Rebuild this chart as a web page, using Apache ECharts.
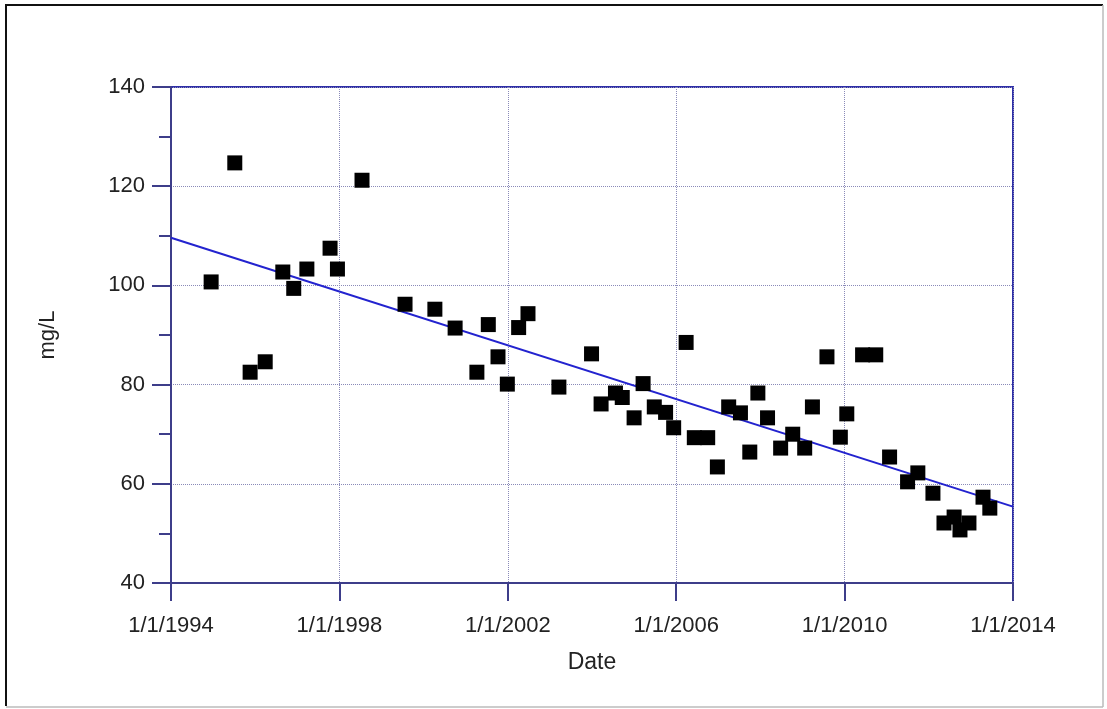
<!DOCTYPE html>
<html>
<head>
<meta charset="utf-8">
<title>mg/L over time</title>
<script src="https://cdn.jsdelivr.net/npm/echarts@6/dist/echarts.min.js"></script>
<style>
  html, body { margin: 0; padding: 0; background: #fff; }
  #chart { width: 1107px; height: 709px; }
</style>
</head>
<body>
<div id="chart"></div>
<script>
// Sample dates and measured concentrations (mg/L)
const sampleDates = [
  '1994-12-15', '1995-07-08', '1995-11-18', '1996-03-28', '1996-08-28', '1996-12-01',
  '1997-03-25', '1997-10-12', '1997-12-15', '1998-07-16', '1999-07-24', '2000-04-08',
  '2000-10-01', '2001-04-08', '2001-07-16', '2001-10-08', '2001-12-28', '2002-04-05',
  '2002-06-25', '2003-03-20', '2003-12-28', '2004-03-20', '2004-07-23', '2004-09-20',
  '2005-01-01', '2005-03-20', '2005-06-25', '2005-10-01', '2005-12-10', '2006-03-28',
  '2006-06-07', '2006-10-01', '2006-12-24', '2007-04-01', '2007-07-12', '2007-10-01',
  '2007-12-10', '2008-03-03', '2008-06-25', '2008-10-08', '2009-01-20', '2009-03-28',
  '2009-08-01', '2009-11-25', '2010-01-20', '2010-06-06', '2010-09-28', '2011-01-26',
  '2011-07-01', '2011-09-28', '2012-02-06', '2012-05-12', '2012-08-08', '2012-09-28',
  '2012-12-15', '2013-04-16', '2013-06-14'
];
const concentrations = [
  100.7, 124.7, 82.5, 84.6, 102.7, 99.4,
  103.3, 107.5, 103.3, 121.2, 96.2, 95.2,
  91.4, 82.5, 92.1, 85.6, 80.1, 91.5,
  94.3, 79.5, 86.2, 76.1, 78.3, 77.4,
  73.3, 80.2, 75.5, 74.4, 71.3, 88.5,
  69.3, 69.3, 63.4, 75.5, 74.3, 66.4,
  78.3, 73.3, 67.2, 70.0, 67.2, 75.5,
  85.6, 69.4, 74.1, 86.0, 86.0, 65.4,
  60.4, 62.2, 58.1, 52.1, 53.3, 50.7,
  52.1, 57.3, 55.1
];

// Linear trend line end points (date, mg/L)
const trendDates = ['1994-01-01', '2014-01-01'];
const trendValues = [109.6, 55.4];

// Axis ranges and tick labels
const xTickYears = [1994, 1998, 2002, 2006, 2010, 2014];
const yTicks = [40, 60, 80, 100, 120, 140];

// Convert an ISO date to a fractional year for the linear date axis
function toYear(iso) {
  const d = new Date(iso + 'T00:00:00Z');
  const y = d.getUTCFullYear();
  const start = Date.UTC(y, 0, 1);
  const end = Date.UTC(y + 1, 0, 1);
  return y + (d.getTime() - start) / (end - start);
}

const scatterData = sampleDates.map((d, i) => [toYear(d), concentrations[i]]);
const trendData = trendDates.map((d, i) => [toYear(d), trendValues[i]]);

const FONT = '"Liberation Sans", Arial, sans-serif';
const AXIS_COLOR = '#3d3d8a';
const GRID_COLOR = '#8a8ab8';

const chart = echarts.init(document.getElementById('chart'), null, { renderer: 'canvas' });

chart.setOption({
  animation: false,
  backgroundColor: '#ffffff',
  textStyle: { fontFamily: FONT },
  graphic: [
    // page frame
    { type: 'line', shape: { x1: 6, y1: 5, x2: 6, y2: 706 }, style: { stroke: '#111', lineWidth: 2 } },
    { type: 'line', shape: { x1: 5, y1: 5, x2: 1103, y2: 5 }, style: { stroke: '#111', lineWidth: 2 } },
    { type: 'line', shape: { x1: 1103, y1: 5, x2: 1103, y2: 707 }, style: { stroke: '#bbbbbb', lineWidth: 1.5 } },
    { type: 'line', shape: { x1: 6, y1: 707, x2: 1103, y2: 707 }, style: { stroke: '#bbbbbb', lineWidth: 1.5 } }
  ],
  grid: {
    left: 171,
    top: 87,
    right: 94,
    bottom: 126,
    show: true,
    borderColor: '#2f2fa8',
    borderWidth: 2,
    backgroundColor: 'transparent'
  },
  xAxis: {
    type: 'value',
    min: xTickYears[0],
    max: xTickYears[xTickYears.length - 1],
    interval: 4,
    name: 'Date',
    nameLocation: 'middle',
    nameGap: 68,
    nameTextStyle: { fontSize: 23, color: '#222', fontFamily: FONT },
    axisLine: { show: true, onZero: false, lineStyle: { color: AXIS_COLOR, width: 2 } },
    axisTick: { show: true, inside: false, length: 18, lineStyle: { color: AXIS_COLOR, width: 2 } },
    axisLabel: {
      margin: 32,
      fontSize: 22,
      color: '#222',
      fontFamily: FONT,
      formatter: v => '1/1/' + v
    },
    splitLine: { show: true, lineStyle: { color: GRID_COLOR, type: 'dotted', width: 1 } }
  },
  yAxis: {
    type: 'value',
    min: yTicks[0],
    max: yTicks[yTicks.length - 1],
    interval: 20,
    name: 'mg/L',
    nameLocation: 'middle',
    nameGap: 112,
    nameRotate: 90,
    nameTextStyle: { fontSize: 22, color: '#222', fontFamily: FONT },
    axisLine: { show: true, onZero: false, lineStyle: { color: AXIS_COLOR, width: 2 } },
    axisTick: { show: true, inside: false, length: 19, lineStyle: { color: AXIS_COLOR, width: 2 } },
    minorTick: { show: true, splitNumber: 2, length: 12, lineStyle: { color: AXIS_COLOR, width: 2 } },
    axisLabel: { margin: 26, fontSize: 22, color: '#222', fontFamily: FONT },
    splitLine: { show: true, lineStyle: { color: GRID_COLOR, type: 'dotted', width: 1 } }
  },
  series: [
    {
      name: 'Trend',
      type: 'line',
      data: trendData,
      showSymbol: false,
      symbol: 'none',
      lineStyle: { color: '#2323cf', width: 2 },
      z: 2
    },
    {
      name: 'mg/L',
      type: 'scatter',
      data: scatterData,
      symbol: 'rect',
      symbolSize: 15,
      itemStyle: { color: '#000000', opacity: 1 },
      z: 3
    }
  ]
});
</script>
</body>
</html>
